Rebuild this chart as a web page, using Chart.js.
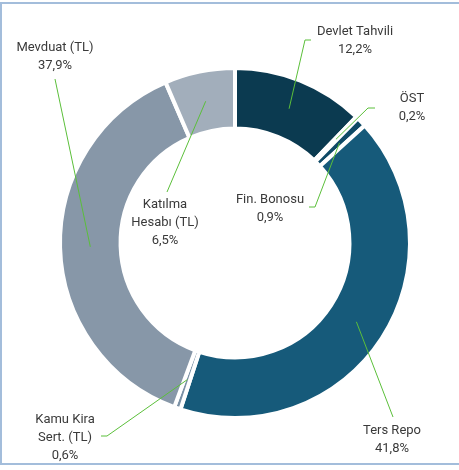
<!DOCTYPE html>
<html>
<head>
<meta charset="utf-8">
<script src="https://cdn.jsdelivr.net/npm/chart.js@4.4.0/dist/chart.umd.min.js"></script>
<style>
    html, body { margin: 0; padding: 0; background: #fff; }
    #wrap { position: relative; width: 459px; height: 470px; }
    #frame {
        position: absolute; left: 0; top: 2px; width: 470px; height: 463px;
        border-top: 2px solid #a3bddb; border-left: 2px solid #a3bddb; border-bottom: 2px solid #a3bddb;
        box-sizing: border-box; pointer-events: none;
    }
    canvas { position: absolute; left: 0; top: 0; }
</style>
</head>
<body>
<div id="wrap">
    <canvas id="chart" width="459" height="470"></canvas>
    <div id="frame"></div>
</div>
<script>
// Portfolio distribution (%)
const categories = ['Devlet Tahvili', 'ÖST', 'Fin. Bonosu', 'Ters Repo', 'Kamu Kira Sert. (TL)', 'Mevduat (TL)', 'Katılma Hesabı (TL)'];
const shares = [12.2, 0.2, 0.9, 41.8, 0.6, 37.9, 6.5];
const labelLines = [
    ['Devlet Tahvili'],
    ['ÖST'],
    ['Fin. Bonosu'],
    ['Ters Repo'],
    ['Kamu Kira', 'Sert. (TL)'],
    ['Mevduat (TL)'],
    ['Katılma', 'Hesabı (TL)']
];
const colors = ['#0b3a50', '#0e4662', '#0f4a66', '#165a7a', '#7b91a6', '#8797a8', '#a2aebb'];

// label placement: text centre + leader elbows (layout only)
const labelLayout = [
    { x: 355, y: 32, path: [[305, 40], [311, 40]] },
    { x: 412, y: 99, path: [[368, 108], [375, 108]] },
    { x: 270, y: 200, path: [[315, 207], [309, 207]] },
    { x: 392, y: 431, path: [[393, 417]] },
    { x: 65, y: 420, path: [[107, 436], [101, 436]] },
    { x: 55, y: 48, path: [[55, 79]] },
    { x: 165, y: 205, path: [[167, 192]] }
];

const fmt = v => v.toFixed(1).replace('.', ',') + '%';

const leaderLabels = {
    id: 'leaderLabels',
    afterDatasetsDraw(chart) {
        const ctx = chart.ctx;
        const arcs = chart.getDatasetMeta(0).data;
        ctx.save();
        ctx.strokeStyle = '#5bbf3a';
        ctx.lineWidth = 1;
        arcs.forEach((arc, i) => {
            const p = arc.tooltipPosition();
            const lay = labelLayout[i];
            ctx.beginPath();
            ctx.moveTo(p.x, p.y);
            lay.path.forEach(pt => ctx.lineTo(pt[0], pt[1]));
            ctx.stroke();

            const lines = labelLines[i].concat([fmt(shares[i])]);
            ctx.fillStyle = '#3a3a3a';
            ctx.font = '13px Roboto';
            ctx.textAlign = 'center';
            ctx.textBaseline = 'middle';
            lines.forEach((t, k) => ctx.fillText(t, lay.x, lay.y + k * 18));
        });
        ctx.restore();
    }
};

new Chart(document.getElementById('chart'), {
    type: 'doughnut',
    data: {
        labels: categories,
        datasets: [{
            data: shares,
            backgroundColor: colors,
            borderColor: '#ffffff',
            borderWidth: 4
        }]
    },
    options: {
        responsive: false,
        animation: false,
        cutout: '65.4%',
        rotation: 0,
        layout: { padding: { left: 58, top: 66, right: 47, bottom: 50 } },
        plugins: {
            legend: { display: false },
            tooltip: { enabled: false }
        }
    },
    plugins: [leaderLabels]
});
</script>
</body>
</html>
